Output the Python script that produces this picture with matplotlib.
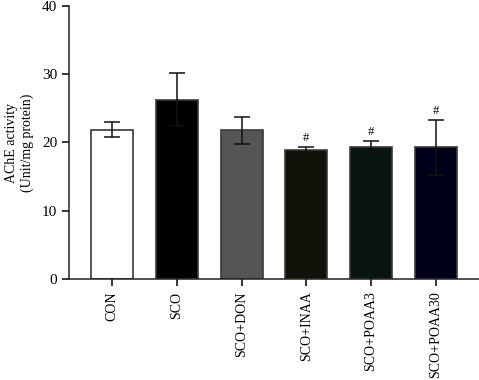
import numpy as np
import matplotlib.pyplot as plt

plt.rcParams['font.family'] = ['Liberation Serif', 'DejaVu Serif']

groups = ['CON', 'SCO', 'SCO+DON', 'SCO+INAA', 'SCO+POAA3', 'SCO+POAA30']
means = [21.9, 26.3, 21.8, 18.95, 19.3, 19.3]
errs = [1.1, 3.9, 2.0, 0.45, 0.9, 4.0]
marks = ['', '', '', '#', '#', '#']
colors = ['#ffffff', '#000000', '#555555', '#11110a', '#0a1512', '#00001a']

fig = plt.figure(figsize=(4.79, 3.80), dpi=100)
ax = fig.add_axes([0.144, 0.266, 0.856, 0.718])

x = np.arange(len(groups))
ax.bar(x, means, width=0.65, color=colors, edgecolor='#3a3a3a', linewidth=1.2)
ax.errorbar(x, means, yerr=errs, fmt='none', ecolor='#111111',
            elinewidth=1.1, capsize=5.5, capthick=1.1)
for xi, m, e, s in zip(x, means, errs, marks):
    if s:
        ax.text(xi, m + e + 0.4, s, ha='center', va='bottom', fontsize=9)

ax.set_xlim(-0.67, 5.67)
ax.set_ylim(0, 40)
ax.set_yticks([0, 10, 20, 30, 40])
ax.set_xticks(x)
ax.set_xticklabels(groups, rotation=90, fontsize=10)
ax.tick_params(axis='y', labelsize=11, length=5, width=1.1)
ax.tick_params(axis='x', length=5, width=1.1, pad=4)
ax.set_ylabel('AChE activity\n(Unit/mg protein)', fontsize=10, labelpad=6)
for sp in ['top', 'right']:
    ax.spines[sp].set_visible(False)
for sp in ['left', 'bottom']:
    ax.spines[sp].set_linewidth(1.1)
    ax.spines[sp].set_color('#222222')

fig.savefig('out.png', dpi=100)
